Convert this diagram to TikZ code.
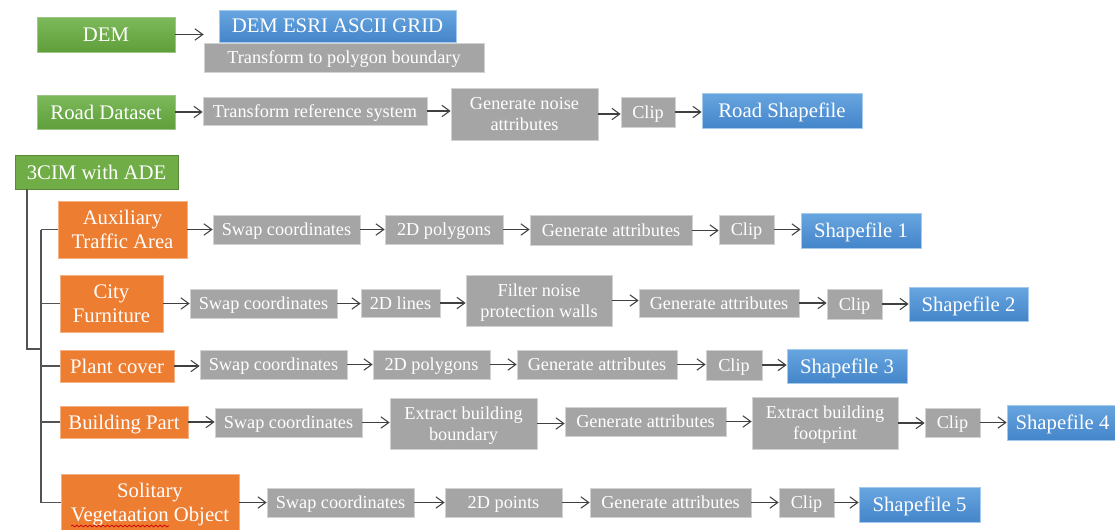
\documentclass[tikz,border=0pt]{standalone}
\usepackage{fontspec}
\setmainfont{Liberation Serif}
\usetikzlibrary{arrows.meta,decorations.pathmorphing}
\definecolor{greenhi}{HTML}{7DB95B}
\definecolor{greenlo}{HTML}{5F9F3A}
\definecolor{cimgreen}{HTML}{70AD47}
\definecolor{orangefill}{HTML}{ED7D31}
\definecolor{bluehi}{HTML}{68A6E0}
\definecolor{bluelo}{HTML}{4485CA}
\definecolor{grayfill}{HTML}{A5A5A5}
\definecolor{linegray}{HTML}{404040}
\tikzset{
  box/.style={rectangle, inner sep=0pt, text=white, align=center, line width=0.4pt, text depth=0pt},
  sz/.style 2 args={minimum width=#1*0.02cm, minimum height=#2*0.02cm},
  bigtext/.style={font=\fontsize{11.8}{13.6}\selectfont},
  smalltext/.style={font=\fontsize{10.4}{12}\selectfont},
  greenbox/.style={box, bigtext, top color=greenhi, bottom color=greenlo, draw=greenlo!60!white},
  cimbox/.style={box, bigtext, fill=cimgreen, draw=cimgreen!80!black},
  orangebox/.style={box, bigtext, fill=orangefill, draw=orangefill!60!white},
  bluebox/.style={box, bigtext, top color=bluehi, bottom color=bluelo, draw=bluehi!60!white},
  graybox/.style={box, smalltext, fill=grayfill, draw=grayfill!50!white},
  flow/.style={draw=linegray, line width=0.6pt, -{Straight Barb[length=4.5pt,width=6.5pt]}},
  tree/.style={draw=linegray!90, line width=0.8pt},
}
\begin{document}
\begin{tikzpicture}[x=0.02cm, y=-0.02cm]
  \useasboundingbox (0,0) rectangle (1115,529);
  % DEM
  \node[greenbox, sz={138}{35}] (dem) at (106,34.5) {DEM};
  \node[bluebox, sz={237}{32}] (demgrid) at (337.5,26) {DEM ESRI ASCII GRID};
  \node[graybox, sz={280}{29}] (demboundary) at (344,57.5) {Transform to polygon boundary};
  % road
  \node[greenbox, sz={138}{34}] (road) at (106,112) {Road Dataset};
  \node[graybox, sz={224}{28}] (roadref) at (315,111) {Transform reference system};
  \node[graybox, sz={147}{52}] (roadnoise) at (524.5,114) {Generate noise\\attributes};
  \node[graybox, sz={54}{30}] (roadclip) at (648,112) {Clip};
  \node[bluebox, sz={160}{35}] (roadshp) at (782,110.5) {Road Shapefile};
  % 3CIM
  \node[cimbox, sz={163}{34}] (cim) at (96.5,172) {3CIM with ADE};
  \coordinate (cimfoot) at (27,189);
  \coordinate (spine) at (41,349);
  \node[orangebox, sz={129}{57}] (aux) at (122.5,229.5) {Auxiliary\\Traffic Area};
  \node[orangebox, sz={103}{57}] (furn) at (111.5,303.5) {City\\Furniture};
  \node[orangebox, sz={114}{32}] (plant) at (117,366) {Plant cover};
  \node[orangebox, sz={128}{32}] (bldg) at (124,422) {Building Part};
  \node[orangebox, sz={178}{57}] (veg) at (150,502.5) {Solitary\\Vegetaation Object};
  % auxiliary traffic area
  \node[graybox, sz={147}{29}] (auxswap) at (286.5,229.5) {Swap coordinates};
  \node[graybox, sz={118}{29}] (auxpoly) at (444,229.5) {2D polygons};
  \node[graybox, sz={162}{30}] (auxattr) at (611,230.5) {Generate attributes};
  \node[graybox, sz={55}{29}] (auxclip) at (746.5,229.5) {Clip};
  \node[bluebox, sz={120}{35}] (auxshp) at (861,230.5) {Shapefile 1};
  % city furniture
  \node[graybox, sz={147}{29}] (furnswap) at (263.5,303.5) {Swap coordinates};
  \node[graybox, sz={79}{28}] (furnline) at (400.5,303) {2D lines};
  \node[graybox, sz={146}{51}] (furnfilter) at (539,300.5) {Filter noise\\protection walls};
  \node[graybox, sz={160}{28}] (furnattr) at (719,303) {Generate attributes};
  \node[graybox, sz={55}{30}] (furnclip) at (854.5,304) {Clip};
  \node[bluebox, sz={119}{34}] (furnshp) at (968.5,304) {Shapefile 2};
  % plant cover
  \node[graybox, sz={147}{29}] (plantswap) at (273.5,364.5) {Swap coordinates};
  \node[graybox, sz={117}{29}] (plantpoly) at (431.5,364.5) {2D polygons};
  \node[graybox, sz={160}{29}] (plantattr) at (597,364.5) {Generate attributes};
  \node[graybox, sz={56}{30}] (plantclip) at (734,365) {Clip};
  \node[bluebox, sz={120}{34}] (plantshp) at (847,366) {Shapefile 3};
  % building part
  \node[graybox, sz={147}{29}] (bldgswap) at (288.5,422.5) {Swap coordinates};
  \node[graybox, sz={147}{51}] (bldgbound) at (463.5,423.5) {Extract building\\boundary};
  \node[graybox, sz={161}{29}] (bldgattr) at (645.5,421.5) {Generate attributes};
  \node[graybox, sz={146}{52}] (bldgfoot) at (825,423) {Extract building\\footprint};
  \node[graybox, sz={55}{29}] (bldgclip) at (952.5,422.5) {Clip};
  \node[bluebox, sz={111}{35}] (bldgshp) at (1062.5,422.5) {Shapefile 4};
  % solitary vegetation object
  \node[graybox, sz={147}{29}] (vegswap) at (340.5,502.5) {Swap coordinates};
  \node[graybox, sz={117}{29}] (vegpoint) at (503.5,502.5) {2D points};
  \node[graybox, sz={161}{29}] (vegattr) at (670.5,502.5) {Generate attributes};
  \node[graybox, sz={55}{29}] (vegclip) at (806.5,502.5) {Clip};
  \node[bluebox, sz={121}{35}] (vegshp) at (919.5,504.5) {Shapefile 5};
  % spell check mark
  \draw[red!80!black, line width=0.4pt, decorate, decoration={snake, amplitude=0.5pt, segment length=2.5pt}] (71,526) -- (169,526);
  % arrows
  \foreach \a/\b in {dem/demboundary, road/roadref, roadref/roadnoise, roadnoise/roadclip, roadclip/roadshp,
      aux/auxswap, auxswap/auxpoly, auxpoly/auxattr, auxattr/auxclip, auxclip/auxshp,
      furn/furnswap, furnswap/furnline, furnline/furnfilter, furnfilter/furnattr, furnattr/furnclip, furnclip/furnshp,
      plant/plantswap, plantswap/plantpoly, plantpoly/plantattr, plantattr/plantclip, plantclip/plantshp,
      bldg/bldgswap, bldgswap/bldgbound, bldgbound/bldgattr, bldgattr/bldgfoot, bldgfoot/bldgclip, bldgclip/bldgshp,
      veg/vegswap, vegswap/vegpoint, vegpoint/vegattr, vegattr/vegclip, vegclip/vegshp}
    \draw[flow] (\a.east) -- (\a.east -| \b.west);
  % tree
  \draw[tree] (cimfoot) |- (spine);
  \draw[tree] (spine |- aux.west) -- (spine |- veg.west);
  \foreach \n in {aux,furn,plant,bldg,veg}
    \draw[tree] (spine |- \n.west) -- (\n.west);
\end{tikzpicture}
\end{document}
